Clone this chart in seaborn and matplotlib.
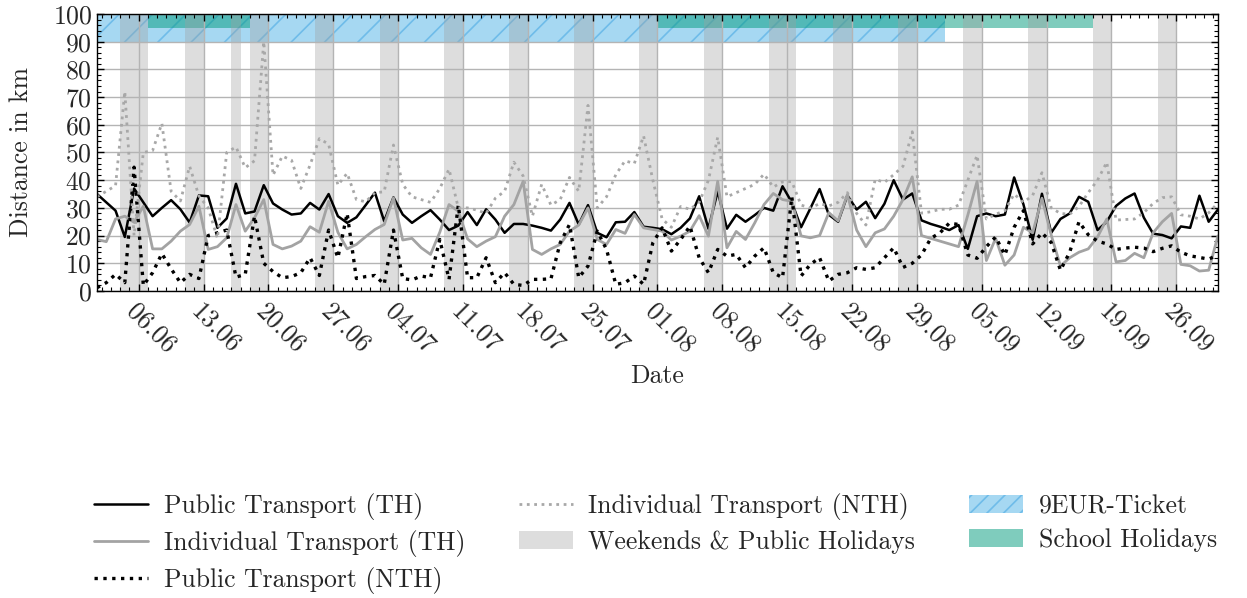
import numpy as np
import pandas as pd
import matplotlib
matplotlib.use("Agg")
import matplotlib.pyplot as plt
import matplotlib.dates as mdates
from matplotlib.patches import Patch
from matplotlib.lines import Line2D
import seaborn as sns

# daily values, 01.06.2022 - 30.09.2022 (plotted at noon)
dates = pd.date_range("2022-06-01 12:00", "2022-09-30 12:00", freq="D")

public_th = [
    35, 32, 29, 19.5, 37, 32, 27, 30, 32.8, 29.5,
    24.7, 34.5, 34.2, 22.8, 26.2, 38.7, 28, 28.7, 38.2, 31.6,
    29.4, 27.6, 28, 31.8, 29.4, 35, 27, 24.6, 26.6, 31,
    35.5, 25.2, 33.8, 27.6, 24.6, 27, 29.2, 25.8, 22, 23.6,
    28.5, 23.8, 29.5, 25.8, 21, 24.2, 24.2, 23.6, 22.8, 21.8,
    25.8, 31.8, 24, 31, 21, 19.4, 24.8, 25, 28.5, 23.2,
    22.8, 22.3, 20.5, 22.8, 26.2, 34.2, 22.5, 36, 22.5, 27.5,
    25, 27.4, 30, 29, 37.8, 32, 23, 29.8, 36.8, 27.5,
    25, 34.5, 29.4, 32.2, 26.3, 31.5, 40, 33, 35.2, 25.5,
    24.2, 23.2, 22, 23.8, 15.2, 27, 28, 27, 27.6, 41,
    31.3, 18.5, 35.1, 21, 26, 28, 34, 32.2, 22, 25,
    30.7, 33.4, 35.2, 26.5, 20.7, 20.2, 19, 23.3, 22.8, 34.4,
    25, 29.4,
]
individual_th = [
    18.6, 17.8, 26, 27, 24.8, 30.6, 15.2, 15.2, 18, 21.6,
    24, 30.6, 15, 16, 19.2, 31.2, 21.6, 26.4, 33, 16.8,
    15.2, 16.2, 18, 23.2, 21.2, 32.4, 21.2, 15.2, 16.8, 19.6,
    22.2, 24, 33.6, 18.4, 19, 15.6, 13.2, 21.2, 31.2, 28.8,
    18.8, 16, 18, 19.6, 27, 31.2, 39.6, 15, 13.2, 15.2,
    16.8, 21.6, 23.8, 30, 18.6, 16.8, 22.2, 20.8, 27.6, 22.8,
    22.2, 21.6, 18.4, 19.8, 21.6, 27.2, 19.8, 39.6, 15.6, 21.5,
    18.6, 24.6, 31.2, 35.2, 33, 32.4, 19.9, 19.2, 20, 28.3,
    25.3, 34.8, 22, 16, 21, 22.4, 27, 33, 41.2, 20,
    19, 18, 17, 16, 27.4, 39.6, 11, 19, 9.3, 13,
    23, 21, 33.5, 20.2, 9, 12, 14, 15.2, 19.5, 26,
    10.5, 11, 13.6, 12, 21, 25, 28, 9.6, 9.1, 7.2,
    7.5, 19.9,
]
public_nth = [
    1.2, 3, 6, 3, 44.7, 2, 6.6, 13.5, 8, 3,
    6, 4.5, 20, 21, 22, 5, 6, 27, 10, 7,
    4.8, 5.2, 6.6, 12, 5.6, 22, 12, 28, 4.5, 5.2,
    5.6, 2.4, 22, 4.5, 4, 5.4, 4.8, 18.6, 4.2, 31,
    4.8, 4.8, 12, 3, 6.6, 2.4, 2, 4.2, 4.2, 4.4,
    17.4, 24, 4.8, 9, 21.6, 15, 2.4, 3, 5.4, 2.4,
    17.4, 22.8, 14.4, 18.6, 23.4, 12, 6.6, 15, 12.6, 13.2,
    8.4, 12.6, 15.6, 6.6, 4.8, 34, 5.4, 9.6, 12, 3.6,
    6, 6.6, 8.4, 7.8, 8.4, 12, 15.6, 8.5, 10, 13,
    19, 21, 24.5, 24, 13, 11.8, 16, 19.5, 13, 23,
    29, 17, 21, 17.5, 7.5, 14, 25, 20.3, 18, 17,
    15, 15.5, 15.8, 15.5, 14.2, 15.4, 16.3, 14, 12.7, 12.1,
    11.5, 13,
]
individual_nth = [
    34, 36, 38, 72, 20, 50, 50.7, 60.5, 36, 32.5,
    45, 34.3, 30, 19, 50, 52, 44.5, 47, 90, 41.8,
    48.7, 47.2, 37, 45.5, 55, 53, 38.2, 42.5, 33, 32.2,
    35.5, 35.8, 52.7, 38.5, 34, 33, 32, 37, 44, 30,
    30, 29.2, 28, 33.5, 36, 46.5, 41.5, 27, 38.5, 31,
    33, 41, 36, 67, 30, 34, 42, 47, 46, 56,
    40, 26, 23, 30.5, 29.5, 32, 40, 55.5, 34, 35.5,
    37, 38.5, 42.2, 37.5, 39.4, 39.5, 31, 30, 31.5, 30.7,
    32, 35.5, 28, 23.8, 40.3, 39.2, 42, 45, 57.5, 28.1,
    28.6, 29.5, 29.5, 31, 40, 49, 26, 27.7, 29, 35,
    32, 34.5, 42.7, 30, 28, 27.7, 30.5, 35.5, 40, 46.5,
    25.6, 25.8, 26, 28.3, 31.6, 33.7, 34, 27.5, 27, 26,
    28.2, 31.8,
]

holidays = ["2022-06-06", "2022-06-16", "2022-08-15"]
ticket_period = ("2022-06-01", "2022-09-01")
school_holidays = [("2022-06-07", "2022-06-18"), ("2022-08-01", "2022-09-17")]

series = [
    ("Public Transport (TH)", public_th, "black", "-", 1.8),
    ("Individual Transport (TH)", individual_th, "#a3a3a3", "-", 2.0),
    ("Public Transport (NTH)", public_nth, "black", ":", 2.4),
    ("Individual Transport (NTH)", individual_nth, "#a8a8a8", ":", 2.0),
]

sns.set_style("ticks")
plt.rcParams["font.family"] = ["cmr10", "DejaVu Serif"]
plt.rcParams.update({
    "mathtext.fontset": "cm",
    "axes.formatter.use_mathtext": True,
    "font.size": 18.5,
    "axes.linewidth": 1.0,
    "xtick.direction": "in",
    "ytick.direction": "in",
    "hatch.linewidth": 1.2,
})

fig = plt.figure(figsize=(12.47, 5.98), dpi=100)
ax = fig.add_axes([0.0778, 0.5134, 0.8989, 0.4632])

df = pd.DataFrame({"date": dates})
for name, vals, color, ls, lw in series:
    df[name] = vals
    sns.lineplot(data=df, x="date", y=name, ax=ax, color=color, linestyle=ls,
                 linewidth=lw, zorder=3)

# weekends and public holidays
hol = set(pd.to_datetime(holidays).normalize())
band_col = "#a0a0a0"
for d in dates.normalize():
    if d.weekday() >= 5 or d in hol:
        ax.axvspan(d, d + pd.Timedelta(days=1), color=band_col, alpha=0.35,
                   lw=0, zorder=1)

# 9EUR ticket and school holidays along the top
ax.axvspan(pd.Timestamp(ticket_period[0]), pd.Timestamp(ticket_period[1]),
           ymin=0.9, ymax=1.0, facecolor="#a6d8f2", edgecolor="#6fbce9",
           hatch="/", lw=0, zorder=0.8)
for s, e in school_holidays:
    ax.axvspan(pd.Timestamp(s), pd.Timestamp(e), ymin=0.95, ymax=1.0,
               facecolor="#009b7d", alpha=0.5, lw=0, zorder=0.9)

ax.set_xlim(dates[0], dates[-1])
ax.set_ylim(0, 100)
ax.set_yticks(np.arange(0, 101, 10))
ax.yaxis.set_minor_locator(matplotlib.ticker.MultipleLocator(2))
ax.xaxis.set_major_locator(mdates.WeekdayLocator(byweekday=mdates.MO))
ax.xaxis.set_minor_locator(mdates.DayLocator())
ax.xaxis.set_major_formatter(mdates.DateFormatter("%d.%m"))
ax.tick_params(which="both", top=True, right=True, color="black")
ax.tick_params(which="major", length=5, width=1)
ax.tick_params(which="minor", length=3, width=0.8)
ax.tick_params(axis="x", which="major", pad=6)
for lab in ax.get_xticklabels():
    lab.set_rotation(-45)
    lab.set_ha("left")
    lab.set_va("top")
    lab.set_rotation_mode("anchor")

ax.set_axisbelow(False)
ax.grid(True, which="major", color="#b4b4b4", linewidth=1.0)
for sp in ax.spines.values():
    sp.set_color("black")
    sp.set_zorder(4)

ax.set_xlabel("Date", labelpad=5)
ax.set_ylabel("Distance in km", labelpad=14)

handles = [Line2D([], [], color=c, linestyle=ls, linewidth=lw) for _, _, c, ls, lw in series]
labels = [s[0] for s in series]
handles += [
    Patch(facecolor=band_col, alpha=0.35, lw=0),
    Patch(facecolor="#a6d8f2", edgecolor="#6fbce9", hatch="//", lw=0),
    Patch(facecolor="#009b7d", alpha=0.5, lw=0),
]
labels += ["Weekends & Public Holidays", "9EUR-Ticket", "School Holidays"]
fig.legend(handles, labels, ncol=3, loc="upper left", bbox_to_anchor=(0.0756, 0.175),
           frameon=False, handlelength=2.1, handletextpad=0.6, columnspacing=2.1,
           labelspacing=0.38, borderpad=0, borderaxespad=0)

fig.savefig("out.png", dpi=100, facecolor="white")
